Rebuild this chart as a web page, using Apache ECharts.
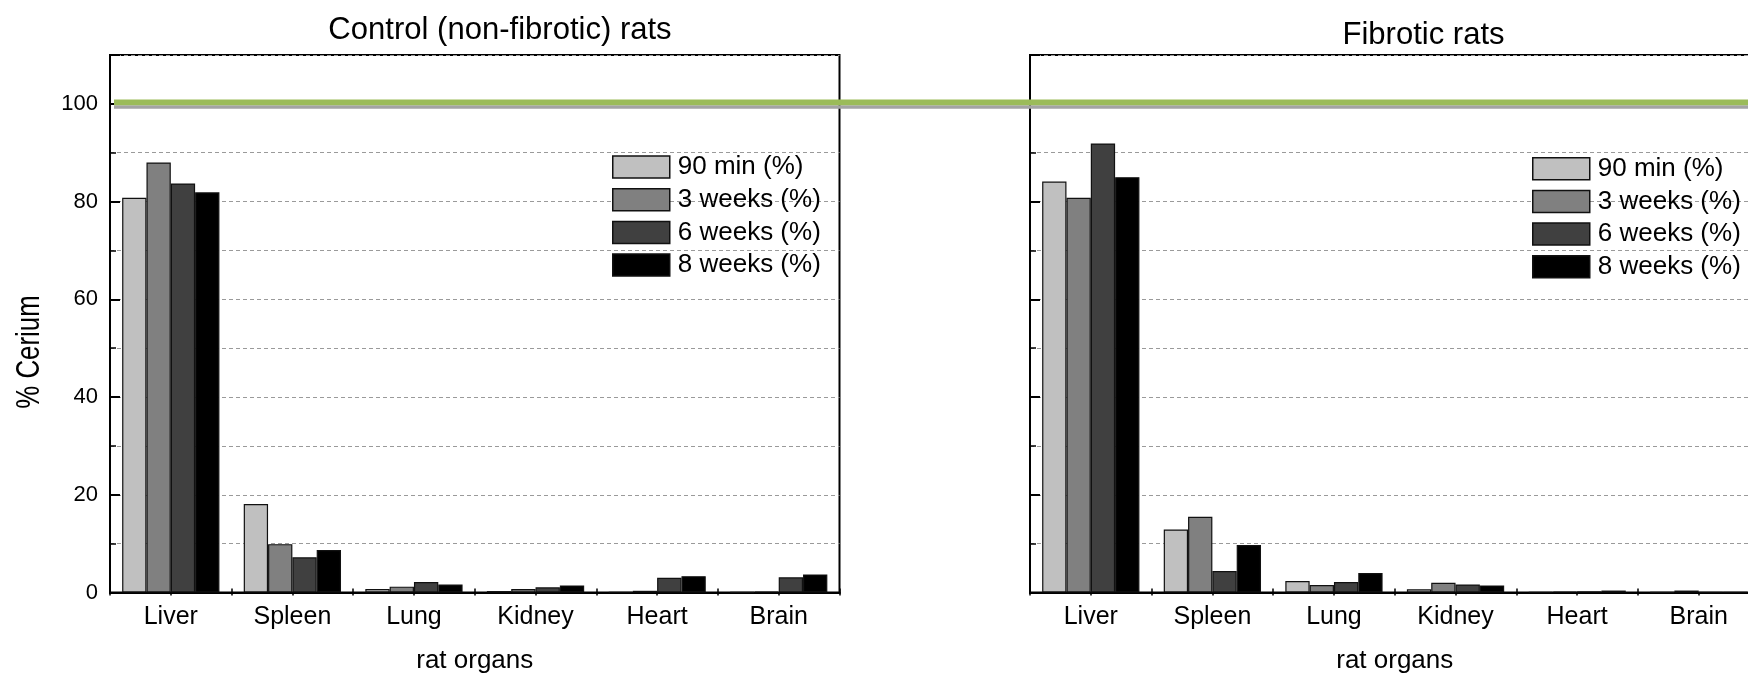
<!DOCTYPE html>
<html>
<head>
<meta charset="utf-8">
<script src="https://cdn.jsdelivr.net/npm/echarts@6/dist/echarts.min.js"></script>
<style>
  html, body { margin: 0; padding: 0; background: #fff; }
  #chart { width: 1748px; height: 675px; }
</style>
</head>
<body>
<div id="chart"></div>
<script>
// Organ categories and sampling periods
const organs = ['Liver', 'Spleen', 'Lung', 'Kidney', 'Heart', 'Brain'];
const periods = ['90 min (%)', '3 weeks (%)', '6 weeks (%)', '8 weeks (%)'];

// % Cerium per organ, control (non-fibrotic) rats
const control90min = [80.8, 18.1, 0.7, 0.3, 0.1, 0.05];
const control3wk   = [88.0, 9.9, 1.2, 0.7, 0.35, 0.2];
const control6wk   = [83.7, 7.2, 2.15, 1.05, 3.0, 3.1];
const control8wk   = [81.9, 8.7, 1.65, 1.45, 3.35, 3.7];

// % Cerium per organ, fibrotic rats
const fibrotic90min = [84.1, 12.9, 2.35, 0.65, 0.1, 0.05];
const fibrotic3wk   = [80.8, 15.5, 1.55, 2.0, 0.2, 0.4];
const fibrotic6wk   = [91.9, 4.4, 2.15, 1.65, 0.25, 0.1];
const fibrotic8wk   = [85.0, 9.7, 4.0, 1.45, 0.4, 0.1];

// 100 % reference band (two overlaid lines)
const refSpan = [0, 1];
const refGreenLevel = 100.3;
const refGrayLevel = 99.35;

const yTickLabels = [0, 20, 40, 60, 80, 100];

const FONT = "'Liberation Sans', Arial, sans-serif";
const fills = ['#c0c0c0', '#808080', '#404040', '#000000'];

const chart = echarts.init(document.getElementById('chart'));

const gridLeft = { left: 110, top: 55, width: 729.5, height: 537.5 };
const gridRight = { left: 1030, top: 55, width: 729.5, height: 537.5 };

function catAxis(gi) {
  return {
    type: 'category', gridIndex: gi, position: 'bottom', data: organs,
    boundaryGap: true,
    axisLine: { lineStyle: { color: '#000', width: 2 } },
    axisTick: { show: true, inside: true, length: 4, interval: 0, lineStyle: { color: '#000', width: 1.5 } },
    axisLabel: { fontFamily: FONT, fontSize: 25, color: '#000', margin: 12, interval: 0 },
    name: 'rat organs', nameLocation: 'middle', nameGap: 55,
    nameTextStyle: { fontFamily: FONT, fontSize: 26, color: '#000' },
    splitLine: { show: false }
  };
}
function topAxis(gi) {
  return {
    type: 'value', gridIndex: gi, position: 'top', min: 0, max: 6, interval: 0.5,
    axisLine: { show: true, lineStyle: { color: '#000', width: 2 } },
    axisTick: { show: true, inside: true, length: 3, lineStyle: { color: '#000', width: 1.5 } },
    axisLabel: { show: false }, splitLine: { show: false }
  };
}
function minorYAxis(gi, labels) {
  return {
    type: 'value', gridIndex: gi, position: 'left', min: 0, max: 110, interval: 10,
    axisLine: { show: true, lineStyle: { color: '#000', width: 2 } },
    axisTick: { show: true, inside: true, length: 6, lineStyle: { color: '#000', width: 1.5 } },
    axisLabel: {
      show: labels, fontFamily: FONT, fontSize: 22, color: '#000', margin: 12,
      formatter: v => (yTickLabels.indexOf(v) >= 0 ? '{t|' + v + '}' : ''),
      rich: { t: { fontFamily: FONT, fontSize: 22, color: '#000' } }
    },
    splitLine: { show: true, lineStyle: { color: '#9a9a9a', width: 1, type: [4, 3] } }
  };
}
function majorYAxis(gi) {
  return {
    type: 'value', gridIndex: gi, position: 'left', min: 0, max: 110, interval: 20,
    axisLine: { show: false },
    axisTick: { show: true, inside: true, length: 10, lineStyle: { color: '#000', width: 2 } },
    axisLabel: { show: false }, splitLine: { show: false }
  };
}

function barSeries(name, data, idx, xi, yi) {
  return {
    type: 'bar', name: name, data: data, xAxisIndex: xi, yAxisIndex: yi,
    barGap: '0%', barCategoryGap: '20%',
    itemStyle: { color: fills[idx], borderColor: '#111', borderWidth: 1.2 },
    emphasis: { disabled: true }, z: 3
  };
}

function legendAt(left, top) {
  return {
    orient: 'vertical', left: left, top: top, data: periods, padding: 0,
    icon: 'rect', itemWidth: 57, itemHeight: 22, itemGap: 6.7,
    selectedMode: false,
    itemStyle: { borderColor: '#111', borderWidth: 1.5 },
    textStyle: { fontFamily: FONT, fontSize: 26, color: '#000', padding: [0, 0, 0, 3] }
  };
}

const gridBox = { show: true, borderColor: '#000', borderWidth: 2, backgroundColor: 'transparent', outerBoundsMode: 'none', containLabel: false };

const option = {
  backgroundColor: '#fff',
  animation: false,
  textStyle: { fontFamily: FONT, color: '#000' },
  grid: [
    Object.assign({}, gridBox, gridLeft),
    Object.assign({}, gridBox, gridRight),
    { left: 114, right: 0, top: 55, height: 537.5, outerBoundsMode: 'none' }
  ],
  xAxis: [
    catAxis(0), topAxis(0),
    catAxis(1), topAxis(1),
    { type: 'value', gridIndex: 2, min: 0, max: 1, show: false }
  ],
  yAxis: [
    minorYAxis(0, true), majorYAxis(0),
    minorYAxis(1, false), majorYAxis(1),
    { type: 'value', gridIndex: 2, min: 0, max: 110, show: false }
  ],
  legend: [legendAt(612, 154), legendAt(1532, 155.7)],
  series: [
    barSeries(periods[0], control90min, 0, 0, 0),
    barSeries(periods[1], control3wk, 1, 0, 0),
    barSeries(periods[2], control6wk, 2, 0, 0),
    barSeries(periods[3], control8wk, 3, 0, 0),
    barSeries(periods[0], fibrotic90min, 0, 2, 2),
    barSeries(periods[1], fibrotic3wk, 1, 2, 2),
    barSeries(periods[2], fibrotic6wk, 2, 2, 2),
    barSeries(periods[3], fibrotic8wk, 3, 2, 2),
    {
      type: 'line', xAxisIndex: 4, yAxisIndex: 4, symbol: 'none', silent: true, z: 20,
      data: refSpan.map(x => [x, refGrayLevel]),
      lineStyle: { color: '#a3a3a3', width: 3.5 }
    },
    {
      type: 'line', xAxisIndex: 4, yAxisIndex: 4, symbol: 'none', silent: true, z: 21,
      data: refSpan.map(x => [x, refGreenLevel]),
      lineStyle: { color: '#9bbb59', width: 5.7 }
    }
  ],
  graphic: [
    {
      type: 'text', x: 500, y: 30, z: 50, scaleX: 0.97,
      style: { text: 'Control (non-fibrotic) rats', font: '32px ' + FONT, fill: '#000', textAlign: 'center', textVerticalAlign: 'middle' }
    },
    {
      type: 'text', x: 1423.5, y: 35.5, z: 50, scaleX: 0.97,
      style: { text: 'Fibrotic rats', font: '32px ' + FONT, fill: '#000', textAlign: 'center', textVerticalAlign: 'middle' }
    },
    {
      type: 'text', x: 30, y: 352, rotation: Math.PI / 2, scaleX: 0.76, z: 50,
      style: { text: '% Cerium', font: '34px ' + FONT, fill: '#000', textAlign: 'center', textVerticalAlign: 'middle' }
    }
  ]
};

chart.setOption(option);
</script>
</body>
</html>
